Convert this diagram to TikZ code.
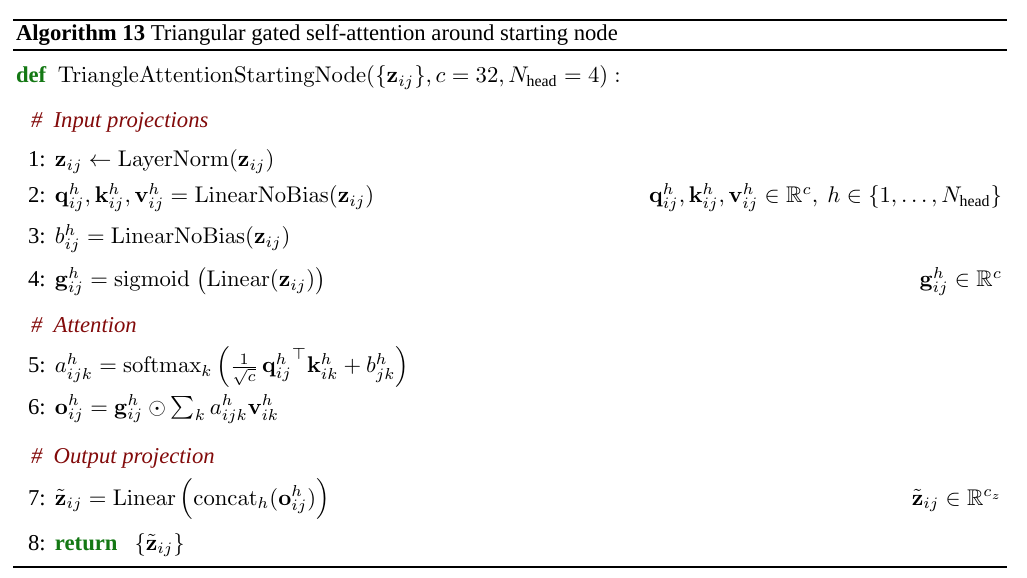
\documentclass[tikz,border=0pt]{standalone}
\usepackage{amsmath,amssymb}
\usepackage[no-math]{fontspec}
\setmainfont{Liberation Serif}
\definecolor{kwgreen}{RGB}{20,120,20}
\definecolor{cmtred}{RGB}{130,10,10}
\begin{document}
\begin{tikzpicture}[x=0.441pt,y=-0.441pt,
  txt/.style={anchor=base west,inner sep=0pt,outer sep=0pt},
  rtxt/.style={anchor=base east,inner sep=0pt,outer sep=0pt},
  lno/.style={anchor=base west,inner sep=0pt,outer sep=0pt},
  cmt/.style={anchor=base west,inner sep=0pt,outer sep=0pt,text=cmtred,font=\itshape}]
\useasboundingbox (0,0) rectangle (1027,578);
\draw[line width=0.85pt] (13,20) -- (1007,20);
\draw[line width=0.45pt] (13,50) -- (1007,50);
\draw[line width=0.7pt] (13,567) -- (1007,567);
\node[txt] (title) at (16,41) {\textbf{Algorithm 13} Triangular gated self-attention around starting node};
\node[txt] (def) at (16,83) {\textcolor{kwgreen}{\textbf{def}}\ \ $\mathrm{TriangleAttentionStartingNode}(\{\mathbf{z}_{ij}\}, c=32, N_\text{head}=4):$};
\node[cmt] (c1) at (31,128) {\#\ \ Input projections};
\node[lno] (n1) at (28,167) {1:};
\node[txt] (l1) at (55,167) {$\mathbf{z}_{ij} \leftarrow \mathrm{LayerNorm}(\mathbf{z}_{ij})$};
\node[lno] (n2) at (28,203) {2:};
\node[txt] (l2) at (55,203) {$\mathbf{q}^h_{ij}, \mathbf{k}^h_{ij}, \mathbf{v}^h_{ij} = \mathrm{LinearNoBias}(\mathbf{z}_{ij})$};
\node[rtxt] (r2) at (1002,203) {$\mathbf{q}^h_{ij}, \mathbf{k}^h_{ij}, \mathbf{v}^h_{ij} \in \mathbb{R}^c,\ h\in\{1,\dots,N_\text{head}\}$};
\node[lno] (n3) at (28,244) {3:};
\node[txt] (l3) at (55,244) {$b^h_{ij} = \mathrm{LinearNoBias}(\mathbf{z}_{ij})$};
\node[lno] (n4) at (28,287) {4:};
\node[txt] (l4) at (55,287) {$\mathbf{g}^h_{ij} = \mathrm{sigmoid}\;\bigl(\mathrm{Linear}(\mathbf{z}_{ij})\bigr)$};
\node[rtxt] (r4) at (1002,287) {$\mathbf{g}^h_{ij} \in \mathbb{R}^c$};
\node[cmt] (c2) at (31,333) {\#\ \ Attention};
\node[lno] (n5) at (28,373) {5:};
\node[txt] (l5) at (55,373) {$a^h_{ijk} = \mathrm{softmax}_k\left(\frac{1}{\sqrt{c}}\,{\mathbf{q}^h_{ij}}^\top \mathbf{k}^h_{ik} + b^h_{jk}\right)$};
\node[lno] (n6) at (28,414) {6:};
\node[txt] (l6) at (55,414) {$\mathbf{o}^h_{ij} = \mathbf{g}^h_{ij} \odot \textstyle\sum_k a^h_{ijk}\mathbf{v}^h_{ik}$};
\node[cmt] (c3) at (31,463) {\#\ \ Output projection};
\node[lno] (n7) at (28,505) {7:};
\node[txt] (l7) at (55,505) {$\tilde{\mathbf{z}}_{ij} = \mathrm{Linear}\left(\vphantom{\Big(}\mathrm{concat}_h(\mathbf{o}^h_{ij})\right)$};
\node[rtxt] (r7) at (1002,505) {$\tilde{\mathbf{z}}_{ij} \in \mathbb{R}^{c_z}$};
\node[lno] (n8) at (28,550) {8:};
\node[txt] (l8) at (55,550) {\textcolor{kwgreen}{\textbf{return}}\ \ \ $\{\tilde{\mathbf{z}}_{ij}\}$};
\end{tikzpicture}
\end{document}
